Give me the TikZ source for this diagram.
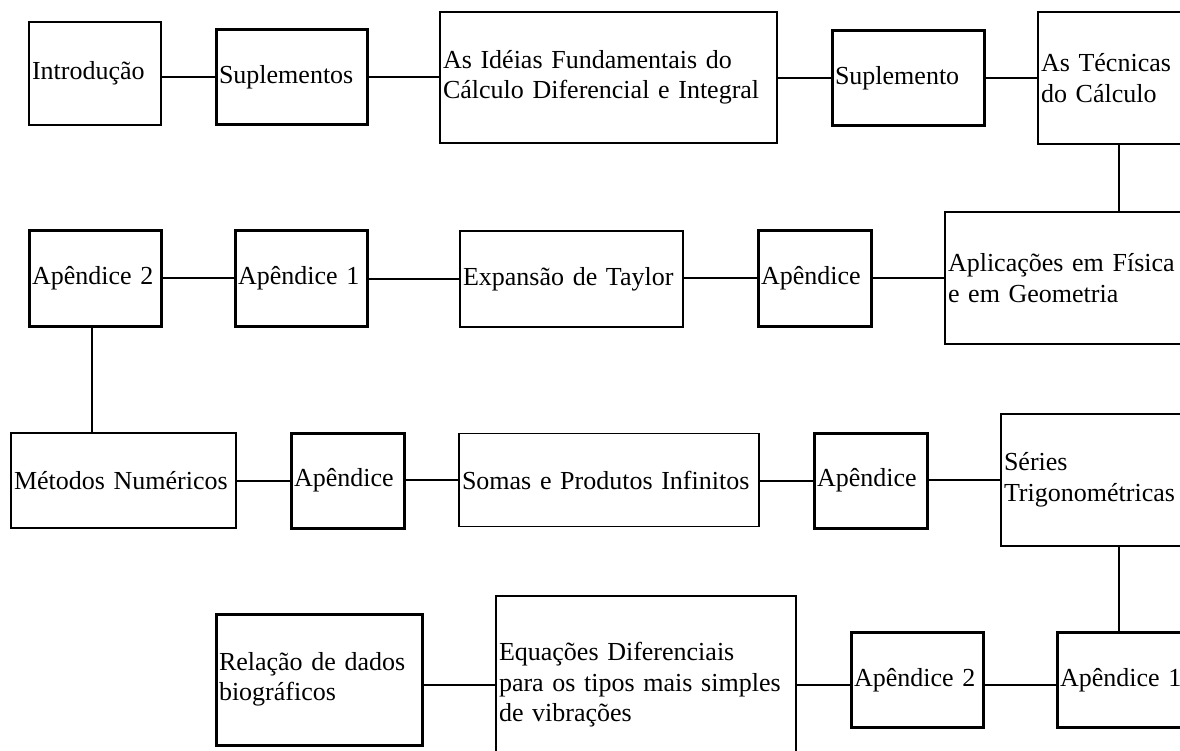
\documentclass[tikz,border=0pt]{standalone}
\usepackage{fontspec}
\setmainfont{Liberation Serif}
\tikzset{box/.style={draw, rectangle, align=left, inner xsep=3pt, inner ysep=0pt, line width=1.5pt, font=\fontsize{26pt}{30.5pt}\selectfont},
    box thick/.style={box, line width=3pt},
    link/.style={line width=2pt}}

\begin{document}
\begin{tikzpicture}[x=1pt, y=-1pt]
    \useasboundingbox (0,0) rectangle (1180,751);
    \clip (0,0) rectangle (1180,751);

    % first row
    \node [box, text width=126pt, minimum height=103pt] (intro) at (95,73.5) {Introdução};
    \node [box thick, text width=145pt, minimum height=95pt] (supls) at (291.5,77.5) {Suplementos};
    \node [box, text width=331pt, minimum height=131pt] (ideias) at (608.5,77.5) {As Idéias Fundamentais do\\Cálculo Diferencial e Integral};
    \node [box thick, text width=146pt, minimum height=95pt] (supl) at (908,78.5) {Suplemento};
    \node [box, text width=156pt, minimum height=132pt] (tecnicas) at (1119,78) {As Técnicas\\do Cálculo};

    % second row
    \node [box thick, text width=126pt, minimum height=95pt] (apdoisA) at (95,278.5) {Apêndice 2};
    \node [box thick, text width=126pt, minimum height=95pt] (apumA) at (301,278.5) {Apêndice 1};
    \node [box, text width=217pt, minimum height=96pt] (taylor) at (571.5,279) {Expansão de Taylor};
    \node [box thick, text width=107pt, minimum height=95pt] (apA) at (814.5,278.5) {Apêndice};
    \node [box, text width=342pt, minimum height=132pt] (aplic) at (1119,278) {Aplicações em Física\\e em Geometria};

    % third row
    \node [box, text width=219pt, minimum height=95pt] (metodos) at (123.5,480.5) {Métodos Numéricos};
    \node [box thick, text width=107pt, minimum height=95pt] (apB) at (347.5,480.5) {Apêndice};
    \node [box, text width=294pt, minimum height=93pt] (somas) at (609,480) {Somas e Produtos Infinitos};
    \node [box thick, text width=107pt, minimum height=95pt] (apC) at (870.5,480.5) {Apêndice};
    \node [box, text width=230pt, minimum height=132pt] (series) at (1119,480) {Séries\\Trigonométricas};

    % fourth row
    \node [box thick, text width=200pt, minimum height=131pt] (relacao) at (319,679.5) {Relação de dados\\biográficos};
    \node [box, text width=294pt, minimum height=178pt] (equacoes) at (646,685) {Equações Diferenciais\\para os tipos mais simples\\de vibrações};
    \node [box thick, text width=126pt, minimum height=95pt] (apdoisB) at (917,680) {Apêndice 2};
    \node [box thick, text width=126pt, minimum height=95pt] (apumB) at (1123,680) {Apêndice 1};

    \foreach \a/\b in {intro/supls, supls/ideias, ideias/supl, supl/tecnicas,
        apdoisA/apumA, apumA/taylor, taylor/apA, apA/aplic,
        metodos/apB, apB/somas, somas/apC, apC/series, relacao/equacoes}
        {
        \draw [link] (\b.west -| \a.east) -- (\b.west);
        }
    \draw [link] (equacoes.east) -- (equacoes.east -| apdoisB.west);
    \draw [link] (apdoisB.east |- equacoes.east) -- (apumB.west |- equacoes.east);
    \draw [link] (tecnicas.south) -- (tecnicas.south |- aplic.north);
    \draw [link] ([xshift=-3pt]apdoisA.south) -- ([xshift=-3pt]apdoisA.south |- metodos.north);
    \draw [link] (series.south) -- (series.south |- apumB.north);
\end{tikzpicture}
\end{document}
